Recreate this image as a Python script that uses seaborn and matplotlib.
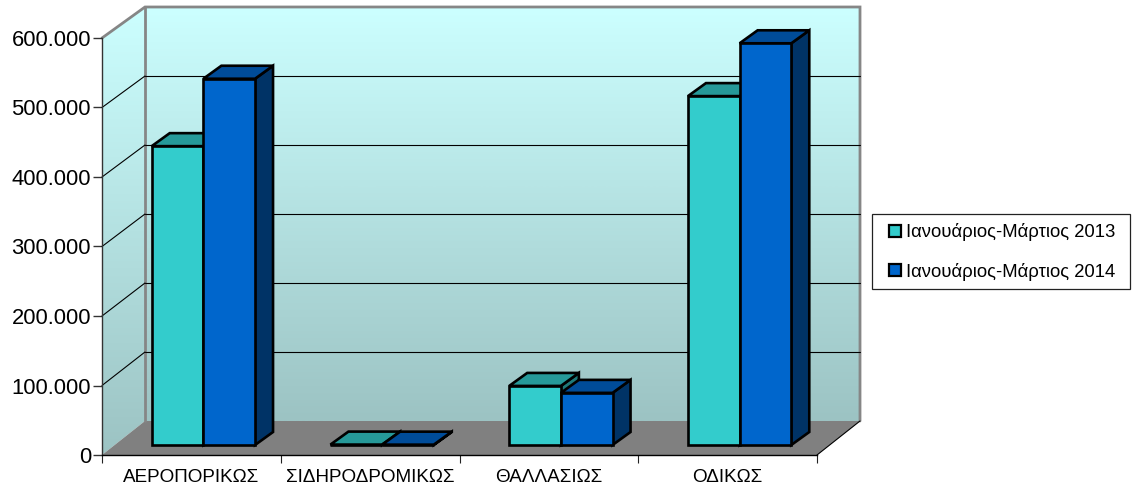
import numpy as np
import pandas as pd
import matplotlib
matplotlib.use("Agg")
import matplotlib.pyplot as plt
from matplotlib.patches import Polygon, Rectangle
from matplotlib.transforms import Affine2D
import seaborn as sns

categories = ["ΑΕΡΟΠΟΡΙΚΩΣ", "ΣΙΔΗΡΟΔΡΟΜΙΚΩΣ", "ΘΑΛΛΑΣΙΩΣ", "ΟΔΙΚΩΣ"]
series_names = ["Ιανουάριος-Μάρτιος 2013", "Ιανουάριος-Μάρτιος 2014"]
values_2013 = [430000, 600, 85000, 502000]
values_2014 = [527000, 500, 75000, 578000]
y_ticks = [0, 100000, 200000, 300000, 400000, 500000, 600000]
y_labels = ["0", "100.000", "200.000", "300.000", "400.000", "500.000", "600.000"]

front_colors = ["#33CCCC", "#0066CC"]
top_colors = ["#269999", "#004C99"]
side_colors = ["#1F7A7A", "#003366"]

W, H = 1135, 491
sns.set_theme(style="white")
plt.rcParams["font.family"] = ["Liberation Sans", "DejaVu Sans"]

fig = plt.figure(figsize=(W / 100, H / 100), dpi=100, facecolor="white")

# Background layer in pixel coordinates: the box walls, floor and legend box
bg = fig.add_axes([0, 0, 1, 1], zorder=0)
bg.axis("off")
grad = np.linspace(0, 1, 256)[:, None, None]
top_c, bot_c = np.array([0xCC, 0xFF, 0xFF]) / 255, np.array([0x9C, 0xC3, 0xC3]) / 255
img = top_c[None, None, :] * (1 - grad) + bot_c[None, None, :] * grad
back_poly = Polygon([(145, 7), (860, 7), (860, 421), (145, 421)], closed=True, fc="none", ec="none")
left_poly = Polygon([(102, 38), (145, 7), (145, 421), (102, 455)], closed=True, fc="none", ec="none")
bg.add_patch(back_poly)
bg.add_patch(left_poly)
for poly, y0, y1 in [(back_poly, 7, 421), (left_poly, 7, 455)]:
    im = bg.imshow(img, extent=(100, 862, y1, y0), aspect="auto", interpolation="bilinear", zorder=1)
    im.set_clip_path(poly)
bg.set_xlim(0, W)
bg.set_ylim(H, 0)
bg.add_patch(Polygon([(102, 455), (145, 421), (860, 421), (817, 455)], closed=True, fc="#808080", ec="none", zorder=2))
bg.add_patch(Rectangle((871.5, 214), 258.5, 74.7, fc="white", ec="#222222", lw=0.9, zorder=2))

# Main axes: the front plane of the chart box
ax = fig.add_axes([102 / W, (H - 455) / H, 715 / W, 417 / H], zorder=1)
ax.patch.set_alpha(0)
df = pd.DataFrame({
    "cat": categories * 2,
    "val": values_2013 + values_2014,
    "series": [series_names[0]] * 4 + [series_names[1]] * 4,
})
sns.barplot(data=df, x="cat", y="val", hue="series", hue_order=series_names,
            palette=front_colors, width=0.578, gap=0, saturation=1,
            edgecolor="black", linewidth=1.9, ax=ax, zorder=5)
ax.set_xlim(-0.5, 3.5)
ax.set_ylim(0, 600000)
ax.set_xlabel("")
ax.set_ylabel("")

def shifted(dx, dy):
    return ax.transData + Affine2D().translate(dx, dy)

inv = ax.transData.inverted()
def data_offset(px, py):
    o = inv.transform((0, 0))
    p = inv.transform((px, py))
    return p[0] - o[0], p[1] - o[1]

# Gridlines on back wall and left wall (the back wall has a slightly smaller scale)
for v in y_ticks[1:-1]:
    rise = 34 - 3 * v / y_ticks[-1]
    wall_dx, wall_dy = data_offset(43, rise)
    ax.plot([-0.5, 3.5], [v, v], color="black", lw=0.8, transform=shifted(43, rise), clip_on=False, zorder=1)
    ax.plot([-0.5, -0.5 + wall_dx], [v, v + wall_dy], color="black", lw=0.8, clip_on=False, zorder=1)

# Wall borders
for xs, ys in [((102, 145, 860, 860), (38, 7, 7, 421)), ((145, 145), (7, 421))]:
    bg.plot(xs, ys, color="#868686", lw=2.0, zorder=3, solid_joinstyle="miter")
bg.plot([817, 860], [455, 421], color="black", lw=0.8, zorder=3)

# Bars: move to mid-depth, add top and side faces
off = (12, 10)
dx_data, dy_data = data_offset(18, 13)
patches = list(ax.patches)
n_cat = len(categories)
for s in range(2):
    z = 5 + s
    for b in patches[s * n_cat:(s + 1) * n_cat]:
        b.set_transform(shifted(*off))
        b.set_clip_on(False)
        b.set_zorder(z + 0.2)
        x0, x1, h = b.get_x(), b.get_x() + b.get_width(), b.get_height()
        top = [(x0, h), (x1, h), (x1 + dx_data, h + dy_data), (x0 + dx_data, h + dy_data)]
        side = [(x1, 0), (x1 + dx_data, dy_data), (x1 + dx_data, h + dy_data), (x1, h)]
        for pts, col in [(side, side_colors[s]), (top, top_colors[s])]:
            ax.add_patch(Polygon(pts, closed=True, fc=col, ec="black", lw=1.9, joinstyle="miter",
                                 transform=shifted(*off), clip_on=False, zorder=z))

# Axes cosmetics
for name in ["top", "right"]:
    ax.spines[name].set_visible(False)
ax.spines["left"].set_color("#333333")
ax.spines["left"].set_linewidth(1.0)
ax.spines["bottom"].set_color("black")
ax.spines["bottom"].set_linewidth(1.0)
ax.set_yticks(y_ticks, y_labels)
ax.tick_params(axis="y", left=True, length=6.5, width=1.0, color="#333333", labelsize=15.8, pad=1.5, labelcolor="black")
ax.set_xticks(range(n_cat), categories)
ax.tick_params(axis="x", which="major", bottom=False, length=0, labelsize=13.6, pad=10, labelcolor="black")
ax.set_xticks(np.arange(-0.5, 4, 1), minor=True)
ax.tick_params(axis="x", which="minor", bottom=True, length=5.8, width=0.8, color="#222222")

# Legend
handles, labels = ax.get_legend_handles_labels()
for h in handles:
    h.set_edgecolor("black")
    h.set_linewidth(1.6)
leg = ax.legend(handles, labels, loc="center left",
                bbox_to_anchor=(889 / W, (H - 252) / H), bbox_transform=fig.transFigure,
                frameon=False, fontsize=13.3, handlelength=0.65, handleheight=0.65,
                handletextpad=0.25, labelspacing=1.15, borderpad=0, borderaxespad=0,
                labelcolor="black")
leg.set_zorder(20)

fig.savefig("out.png", dpi=100, facecolor="white")
